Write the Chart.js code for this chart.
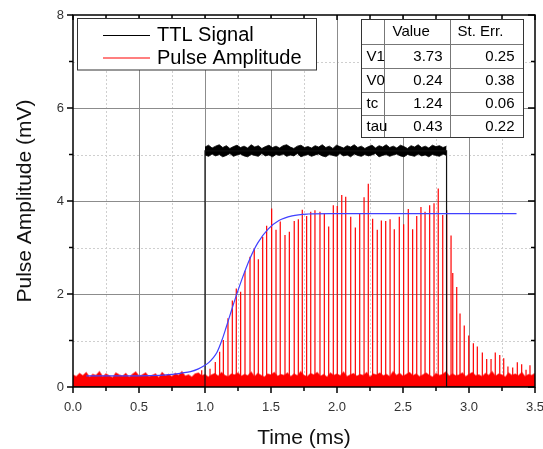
<!DOCTYPE html>
<html><head><meta charset="utf-8">
<script src="https://cdn.jsdelivr.net/npm/chart.js@4.4.1/dist/chart.umd.min.js"></script>
<style>html,body{margin:0;padding:0;background:#fff;}canvas{display:block;}</style>
</head><body>
<canvas id="c" width="543" height="449"></canvas>
<script>
// ---------------- data ----------------
const xTitle = 'Time (ms)';
const yTitle = 'Pulse Amplitude (mV)';
const seriesNames = ['TTL Signal', 'Pulse Amplitude'];

// fit parameter table
const paramHeader = ['', 'Value', 'St. Err.'];
const paramNames = ['V1', 'V0', 'tc', 'tau'];
const paramValues = ['3.73', '0.24', '1.24', '0.43'];
const paramErrors = ['0.25', '0.38', '0.06', '0.22'];

// TTL signal outline
const ttlTimes = [0, 1.0, 1.0, 2.83, 2.83, 3.5];
const ttlLevels = [0, 0, 5.08, 5.08, 0, 0];
const ttlOn = 1.0, ttlOff = 2.83;
// noisy TTL high level: upper and lower envelope (evenly sampled between ttlOn and ttlOff)
const ttlUpper = [
 5.16,5.20,5.14,5.18,5.21,5.15,5.19,5.13,5.17,5.20,
 5.15,5.18,5.14,5.21,5.16,5.19,5.13,5.17,5.20,5.15,
 5.18,5.14,5.19,5.21,5.16,5.13,5.18,5.20,5.15,5.17,
 5.14,5.19,5.16,5.21,5.15,5.18,5.13,5.20,5.17,5.14,
 5.19,5.16,5.21,5.15,5.18,5.13,5.17,5.20,5.14,5.19,
 5.16,5.21,5.15,5.18,5.14,5.20,5.17,5.13,5.19,5.16,
 5.21,5.15,5.18,5.14,5.20,5.17,5.19,5.15,5.18];
const ttlLower = [
 4.99,4.96,5.01,4.97,5.00,4.95,4.98,5.02,4.96,4.99,
 5.01,4.97,4.95,5.00,4.98,4.96,5.02,4.97,4.99,4.95,
 5.00,4.98,5.01,4.96,4.99,4.97,5.02,4.95,4.98,5.00,
 4.96,4.99,5.01,4.97,4.95,5.00,4.98,4.96,5.02,4.97,
 4.99,4.95,5.01,4.98,4.96,5.00,4.97,4.99,5.02,4.95,
 4.98,5.00,4.96,4.99,5.01,4.97,4.95,5.00,4.98,4.96,
 5.01,4.97,4.99,4.95,5.00,4.98,4.96,5.01,4.98];

// pulse amplitude: baseline noise (sampled every noiseStep ms from 0)
const noiseStep = 0.025;
const noiseLevels = [
 0.26,0.22,0.29,0.24,0.31,0.21,0.27,0.25,0.33,0.22,
 0.28,0.24,0.20,0.30,0.26,0.23,0.29,0.21,0.27,0.32,
 0.23,0.26,0.30,0.22,0.25,0.28,0.20,0.31,0.24,0.27,
 0.22,0.29,0.25,0.33,0.23,0.26,0.21,0.28,0.30,0.24,
 0.27,0.21,0.26,0.29,0.23,0.31,0.25,0.22,0.28,0.26,
 0.30,0.23,0.27,0.24,0.32,0.22,0.29,0.25,0.21,0.28,
 0.26,0.31,0.23,0.27,0.25,0.30,0.22,0.28,0.24,0.33,
 0.25,0.22,0.29,0.26,0.31,0.23,0.27,0.21,0.30,0.25,
 0.28,0.24,0.32,0.22,0.26,0.29,0.23,0.27,0.25,0.31,
 0.21,0.28,0.26,0.30,0.24,0.27,0.22,0.33,0.25,0.29,
 0.23,0.27,0.31,0.24,0.28,0.22,0.26,0.30,0.25,0.21,
 0.29,0.25,0.27,0.32,0.23,0.28,0.24,0.26,0.30,0.22,
 0.27,0.31,0.24,0.26,0.22,0.29,0.25,0.33,0.23,0.28,
 0.26,0.21,0.30,0.25,0.28,0.24,0.31,0.22,0.27,0.25,
 0.29];

// pulse amplitude: individual pulses
const spikeTimes = [0.975,1.038,1.078,1.111,1.139,1.174,1.207,1.237,1.270,1.303,1.341,1.373,1.404,1.437,1.467,1.505,1.538,1.570,1.606,1.639,1.676,1.707,1.737,1.770,1.801,1.833,1.871,1.904,1.937,1.972,2.002,2.036,2.066,2.104,2.139,2.172,2.205,2.237,2.270,2.305,2.336,2.369,2.402,2.434,2.472,2.505,2.540,2.573,2.604,2.636,2.667,2.702,2.735,2.767,2.801,2.831,2.864,2.877,2.907,2.932,2.964,2.998,3.033,3.063,3.101,3.134,3.167,3.199,3.233,3.263,3.295,3.331,3.366,3.399,3.432,3.462];
const spikeAmps = [0.36,0.39,0.54,0.76,1.01,1.48,1.86,2.12,2.05,2.50,2.80,2.98,2.75,3.23,3.47,3.84,3.38,3.56,3.27,3.34,3.57,3.61,3.81,3.68,3.77,3.80,3.77,3.73,3.45,3.91,3.89,4.13,4.09,3.66,3.43,3.73,4.08,4.37,3.62,3.38,3.58,3.57,3.61,3.39,3.66,3.50,3.83,3.39,3.68,3.87,3.77,3.91,3.95,4.27,3.70,3.80,3.26,2.45,2.15,1.58,1.32,1.11,0.94,0.87,0.74,0.60,0.60,0.74,0.69,0.62,0.44,0.42,0.53,0.49,0.37,0.47];

// fitted curve
const fitTimes = [0.10,0.50,0.66,0.75,0.82,0.89,0.95,0.99,1.03,1.06,1.09,1.13,1.16,1.19,1.22,1.28,1.34,1.40,1.48,1.56,1.66,1.78,1.95,3.36];
const fitValues = [0.24,0.24,0.25,0.27,0.30,0.33,0.39,0.45,0.53,0.62,0.74,1.02,1.28,1.55,1.82,2.32,2.76,3.10,3.40,3.58,3.68,3.72,3.73,3.73];

// axes
const xMin = 0, xMax = 3.5, xStep = 0.5;
const yMin = 0, yMax = 8, yStep = 2;

// ---------------- build ----------------
const FONT = "'Liberation Sans', Arial, sans-serif";
const pts = (xs, ys) => xs.map((x, i) => ({x: x, y: ys[i]}));
const ttlBandTimes = ttlUpper.map((_, i) => ttlOn + i * (ttlOff - ttlOn) / (ttlUpper.length - 1));
const noiseTimes = noiseLevels.map((_, i) => i * noiseStep);

function mids(a){const r=[];for(let i=0;i<a.length-1;i++)r.push((a[i]+a[i+1])/2);return r;}
function hl(ctx,x1,x2,y){ctx.beginPath();ctx.moveTo(x1,y);ctx.lineTo(x2,y);ctx.stroke();}
function vl(ctx,x,y1,y2){ctx.beginPath();ctx.moveTo(x,y1);ctx.lineTo(x,y2);ctx.stroke();}

const framePlugin = {
  id: 'framePlugin',
  beforeDatasetsDraw(chart){
    const {ctx, chartArea:{left,right,top,bottom}, scales:{x,y}} = chart;
    const xt = x.ticks.map(t=>t.value), yt = y.ticks.map(t=>t.value);
    ctx.save();
    ctx.lineWidth = 1;
    ctx.strokeStyle = '#cfcfcf'; ctx.setLineDash([2,2]);
    mids(xt).forEach(v=>{const p=Math.round(x.getPixelForValue(v))+0.5; vl(ctx,p,top,bottom);});
    mids(yt).forEach(v=>{const p=Math.round(y.getPixelForValue(v))+0.5; hl(ctx,left,right,p);});
    ctx.setLineDash([]); ctx.strokeStyle = '#8c8c8c';
    xt.slice(1,-1).forEach(v=>{const p=Math.round(x.getPixelForValue(v))+0.5; vl(ctx,p,top,bottom);});
    yt.slice(1,-1).forEach(v=>{const p=Math.round(y.getPixelForValue(v))+0.5; hl(ctx,left,right,p);});
    ctx.restore();
  },
  afterDatasetsDraw(chart){
    const {ctx, chartArea:{left,right,top,bottom}, scales:{x,y}} = chart;
    const xt = x.ticks.map(t=>t.value), yt = y.ticks.map(t=>t.value);
    ctx.save();
    ctx.strokeStyle = '#000'; ctx.lineWidth = 1.5;
    ctx.strokeRect(left, top, right-left, bottom-top);
    // major ticks
    xt.forEach(v=>{const p=x.getPixelForValue(v); vl(ctx,p,bottom,bottom+6); vl(ctx,p,top,top+5);});
    yt.forEach(v=>{const p=y.getPixelForValue(v); hl(ctx,left-6,left,p); hl(ctx,right-7,right,p);});
    // minor ticks
    mids(xt).forEach(v=>{const p=x.getPixelForValue(v); vl(ctx,p,bottom,bottom+4); vl(ctx,p,top,top+4);});
    mids(yt).forEach(v=>{const p=y.getPixelForValue(v); hl(ctx,left-4,left,p); hl(ctx,right-4,right,p);});
    ctx.restore();
  },
  afterDraw(chart){
    const ctx = chart.ctx;
    ctx.save();
    // legend
    ctx.fillStyle = '#fff'; ctx.fillRect(77.5, 18.5, 239, 51.5);
    ctx.strokeStyle = '#333'; ctx.lineWidth = 1; ctx.strokeRect(77.5, 18.5, 239, 51.5);
    ctx.strokeStyle = '#000'; ctx.lineWidth = 1; hl(ctx, 103, 150, 35.5);
    ctx.strokeStyle = 'rgba(255,0,0,0.5)'; ctx.lineWidth = 2; hl(ctx, 103, 150, 58);
    ctx.fillStyle = '#000'; ctx.font = '20px ' + FONT; ctx.textBaseline = 'middle'; ctx.textAlign = 'left';
    ctx.fillText(seriesNames[0], 157, 35);
    ctx.fillText(seriesNames[1], 157, 58);
    // parameter table
    const cols = [361.5, 384.5, 450.5, 523.5];
    const rows = [19.5, 44.5, 68.5, 92.5, 115.5, 137.5];
    ctx.fillStyle = '#fff'; ctx.fillRect(cols[0], rows[0], cols[3]-cols[0], rows[5]-rows[0]);
    ctx.strokeStyle = '#777'; ctx.lineWidth = 1;
    rows.slice(1,-1).forEach(r=>hl(ctx, cols[0], cols[3], r));
    cols.slice(1,-1).forEach(c=>vl(ctx, c, rows[0], rows[5]));
    ctx.strokeStyle = '#333';
    ctx.strokeRect(cols[0], rows[0], cols[3]-cols[0], rows[5]-rows[0]);
    ctx.fillStyle = '#000'; ctx.font = '15px ' + FONT; ctx.textBaseline = 'middle';
    ctx.textAlign = 'left';
    ctx.fillText(paramHeader[1], cols[1]+8, (rows[0]+rows[1])/2);
    ctx.fillText(paramHeader[2], cols[2]+7, (rows[0]+rows[1])/2);
    paramNames.forEach((n,i)=>{
      const cy = (rows[i+1]+rows[i+2])/2;
      ctx.textAlign = 'left'; ctx.fillText(n, cols[0]+5, cy);
      ctx.textAlign = 'right';
      ctx.fillText(paramValues[i], cols[2]-8, cy);
      ctx.fillText(paramErrors[i], cols[3]-9, cy);
    });
    ctx.restore();
  }
};

new Chart(document.getElementById('c'), {
  type: 'line',
  data: {
    datasets: [
      {label:'fit', data: pts(fitTimes, fitValues), borderColor:'#4040ff', borderWidth:1.2, pointRadius:0, fill:false, cubicInterpolationMode:'monotone', order:0},
      {label: seriesNames[0], data: pts(ttlTimes, ttlLevels), borderColor:'#111', borderWidth:1.2, pointRadius:0, fill:false, order:1},
      {label:'ttl-upper', data: pts(ttlBandTimes, ttlUpper), borderColor:'#000', borderWidth:0.8, backgroundColor:'#000', pointRadius:0, fill:'+1', order:2},
      {label:'ttl-lower', data: pts(ttlBandTimes, ttlLower), borderColor:'#000', borderWidth:0.8, pointRadius:0, fill:false, order:3},
      {type:'bar', label: seriesNames[1], data: pts(spikeTimes, spikeAmps), backgroundColor:'#ff0000', borderWidth:0, barThickness:1.2, inflateAmount:0, grouped:false, order:4},
      {label:'noise', data: pts(noiseTimes, noiseLevels), borderColor:'rgba(255,0,0,0.55)', borderWidth:1.5, backgroundColor:'#ff0000', pointRadius:0, fill:'origin', order:5}
    ]
  },
  options: {
    responsive:false, animation:false, devicePixelRatio:1,
    layout:{padding:{left:0, right:8, top:15, bottom:0}},
    plugins:{legend:{display:false}, tooltip:{enabled:false}},
    scales:{
      x:{type:'linear', min:xMin, max:xMax, offset:false,
         grid:{display:true, drawOnChartArea:false, drawTicks:false, color:'rgba(0,0,0,0)'},
         border:{display:false},
         ticks:{stepSize:xStep, autoSkip:false, maxRotation:0, padding:13, color:'#333', font:{family:FONT, size:13}, callback:v=>Number(v).toFixed(1)},
         title:{display:true, text:xTitle, color:'#111', font:{family:FONT, size:21, lineHeight:1}, padding:{top:0, bottom:0}},
         afterFit(s){s.height = 62; s.paddingLeft = 0; s.paddingRight = 0;}
      },
      y:{type:'linear', min:yMin, max:yMax,
         grid:{display:true, drawOnChartArea:false, drawTicks:false, color:'rgba(0,0,0,0)'},
         border:{display:false},
         ticks:{stepSize:yStep, autoSkip:false, padding:9, color:'#333', font:{family:FONT, size:13}},
         title:{display:true, text:yTitle, color:'#111', font:{family:FONT, size:21, lineHeight:1}, padding:{top:15, bottom:0}},
         afterFit(s){s.width = 73; s.paddingTop = 0; s.paddingBottom = 0;}
      }
    }
  },
  plugins:[framePlugin]
});
</script>
</body></html>
